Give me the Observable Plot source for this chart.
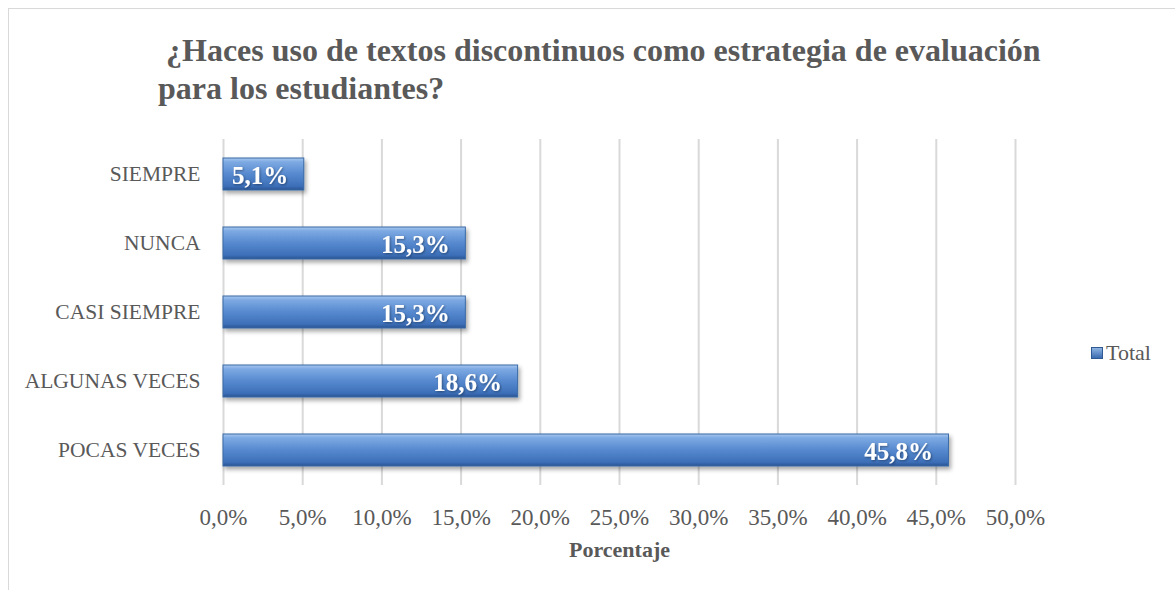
<!DOCTYPE html>
<html>
<head>
<meta charset="utf-8">
<script src="https://cdn.jsdelivr.net/npm/d3@7"></script>
<script src="https://cdn.jsdelivr.net/npm/@observablehq/plot@0.6"></script>
<style>
  html, body { margin: 0; padding: 0; background: #fff; }
  #wrap { position: relative; width: 1175px; height: 590px; overflow: hidden; }
  #frame { position: absolute; left: 8px; top: 8px; width: 1180px; height: 600px; border: 1px solid #d9d9d9; box-sizing: border-box; }
  #title { position: absolute; left: 158px; top: 31px; font-family: "Liberation Serif", serif; font-weight: bold; font-size: 32px; line-height: 38px; color: #595959; white-space: nowrap; }
  #legend { position: absolute; left: 1091px; top: 340px; font-family: "Liberation Serif", serif; font-size: 22px; color: #595959; display: flex; align-items: center; }
  #legend .sw { width: 12px; height: 12px; margin-right: 3px; background: linear-gradient(#8fb4e3, #3b6cb0); border: 1px solid #2f5a94; box-sizing: border-box; }
  #chart { position: absolute; left: 0; top: 0; }
</style>
</head>
<body>
<div id="wrap">
  <div id="frame"></div>
  <div id="chart"></div>
  <div id="title">&nbsp;¿Haces uso de textos discontinuos como estrategia de evaluación<br>para los estudiantes?</div>
  <div id="legend"><span class="sw"></span>Total</div>
</div>
<script>
const categories = ["SIEMPRE", "NUNCA", "CASI SIEMPRE", "ALGUNAS VECES", "POCAS VECES"];
const values = [5.1, 15.3, 15.3, 18.6, 45.8];
const xTicks = [0, 5, 10, 15, 20, 25, 30, 35, 40, 45, 50];
const axisTitle = "Porcentaje";

const data = categories.map((c, i) => ({cat: c, value: values[i]}));
const fmt = v => v.toFixed(1).replace(".", ",") + "%";

const plot = Plot.plot({
  width: 1175,
  height: 590,
  marginTop: 139,
  marginBottom: 105,
  marginLeft: 223,
  marginRight: 160,
  style: {fontFamily: "Liberation Serif, serif", fontSize: "21px", color: "#595959", background: "transparent"},
  x: {domain: [0, 50], ticks: xTicks},
  y: {domain: categories, paddingInner: 0.54, paddingOuter: 0.26},
  marks: [
    Plot.ruleX(xTicks, {stroke: "#d9d9d9", strokeWidth: 2}),
    Plot.barX(data, {x: "value", y: "cat", fill: "url(#barGrad)", stroke: "#3a6aa6", strokeWidth: 1, className: "bars"}),
    Plot.text(data, {x: "value", y: "cat", text: d => fmt(d.value), textAnchor: "end", dx: -16, dy: 1, fill: "white", fontWeight: "bold", fontSize: 25, className: "vlabels"}),
    Plot.axisX({ticks: xTicks, tickFormat: fmt, tickSize: 0, tickPadding: 23, label: null, fontSize: 23}),
    Plot.axisY({tickSize: 0, tickPadding: 23, label: null, fontSize: 21.5}),
    Plot.text([axisTitle], {frameAnchor: "bottom", dy: 71, fontWeight: "bold", fontSize: 22, fill: "#595959"})
  ]
});

const svg = d3.select(plot);
const defs = svg.insert("defs", ":first-child");
const g = defs.append("linearGradient").attr("id", "barGrad").attr("x1", 0).attr("y1", 0).attr("x2", 0).attr("y2", 1);
g.append("stop").attr("offset", "0%").attr("stop-color", "#a9c8ee");
g.append("stop").attr("offset", "12%").attr("stop-color", "#7eaae3");
g.append("stop").attr("offset", "50%").attr("stop-color", "#5689cf");
g.append("stop").attr("offset", "88%").attr("stop-color", "#3c6fb8");
g.append("stop").attr("offset", "100%").attr("stop-color", "#2a5290");
const f = defs.append("filter").attr("id", "shadow").attr("x", "-5%").attr("y", "-20%").attr("width", "115%").attr("height", "160%");
f.append("feDropShadow").attr("dx", 2).attr("dy", 3).attr("stdDeviation", 2).attr("flood-color", "#000").attr("flood-opacity", 0.35);
svg.selectAll(".bars rect").attr("filter", "url(#shadow)");
const tf = defs.append("filter").attr("id", "tshadow");
tf.append("feDropShadow").attr("dx", 1).attr("dy", 1).attr("stdDeviation", 0.8).attr("flood-color", "#000").attr("flood-opacity", 0.4);
svg.selectAll(".vlabels text").attr("filter", "url(#tshadow)");

document.getElementById("chart").appendChild(plot);
</script>
</body>
</html>
